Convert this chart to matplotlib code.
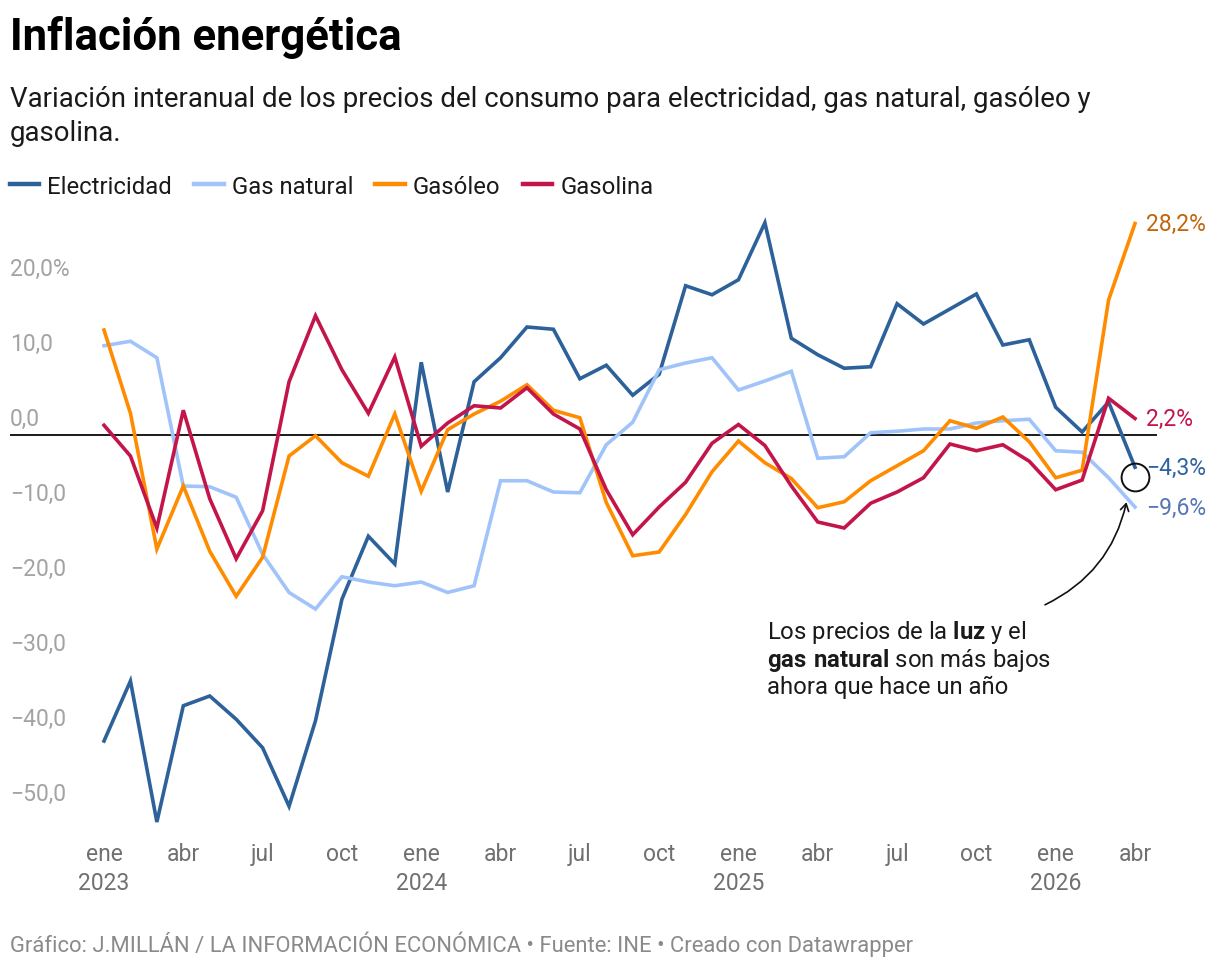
import matplotlib
matplotlib.use("Agg")
import matplotlib.pyplot as plt
from matplotlib.lines import Line2D
from matplotlib import transforms

plt.rcParams['font.family'] = ['Roboto', 'DejaVu Sans']
plt.rcParams['mathtext.fontset'] = 'custom'
plt.rcParams['mathtext.rm'] = 'Roboto'
plt.rcParams['mathtext.bf'] = 'Roboto:bold'

# ---------------- data ----------------
months = list(range(40))  # ene 2023 .. abr 2026
electricidad = [-40.8, -32.8, -51.6, -36.1, -34.8, -37.9, -41.7, -49.5, -38.1, -21.9,
                -13.5, -17.2, 9.7, -7.6, 7.1, 10.3, 14.4, 14.1, 7.5, 9.3,
                5.3, 8.1, 19.9, 18.7, 20.7, 28.3, 12.9, 10.7, 8.9, 9.1,
                17.5, 14.8, 16.8, 18.8, 12.0, 12.7, 3.7, 0.4, 4.4, -4.3]
gas_natural = [11.9, 12.5, 10.3, -6.8, -6.9, -8.3, -15.9, -21.0, -23.2, -18.9,
               -19.6, -20.1, -19.6, -21.0, -20.1, -6.1, -6.1, -7.6, -7.7, -1.3,
               1.7, 8.7, 9.6, 10.3, 6.0, 7.2, 8.5, -3.1, -2.9, 0.3,
               0.5, 0.8, 0.8, 1.6, 1.9, 2.1, -2.1, -2.3, -5.7, -9.6]
gasoleo = [14.0, 2.9, -15.2, -6.8, -15.5, -21.5, -16.3, -2.8, -0.1, -3.7,
           -5.5, 2.8, -7.5, 0.7, 2.8, 4.5, 6.7, 3.3, 2.3, -9.0,
           -16.1, -15.6, -10.6, -4.9, -0.8, -3.7, -5.8, -9.7, -8.9, -6.1,
           -4.1, -2.1, 1.9, 0.9, 2.4, -0.9, -5.7, -4.7, 18.0, 28.2]
gasolina = [1.3, -2.8, -12.4, 3.3, -8.5, -16.5, -10.1, 7.1, 15.9, 8.7,
            2.9, 10.4, -1.5, 1.6, 3.9, 3.6, 6.3, 2.8, 0.8, -7.3,
            -13.3, -9.6, -6.3, -1.1, 1.4, -1.4, -6.8, -11.6, -12.4, -9.1,
            -7.6, -5.7, -1.2, -2.1, -1.3, -3.5, -7.3, -6.0, 4.9, 2.2]

series_names = ['Electricidad', 'Gas natural', 'Gasóleo', 'Gasolina']
series_values = [electricidad, gas_natural, gasoleo, gasolina]
series_colors = ['#2c6199', '#a0c4fa', '#ff8c00', '#c3154a']
end_label_colors = ['#2f62a0', '#5578b5', '#c0650a', '#c3154a']
end_labels = ['−4,3%', '−9,6%', '28,2%', '2,2%']

xtick_pos = [0, 3, 6, 9, 12, 15, 18, 21, 24, 27, 30, 33, 36, 39]
xtick_labels = ['ene\n2023', 'abr', 'jul', 'oct', 'ene\n2024', 'abr', 'jul', 'oct',
                'ene\n2025', 'abr', 'jul', 'oct', 'ene\n2026', 'abr']
ytick_vals = [20, 10, 0, -10, -20, -30, -40, -50]
ytick_labels = ['20,0%', '10,0', '0,0', '−10,0', '−20,0', '−30,0', '−40,0', '−50,0']

# ---------------- figure ----------------
W, H = 1220, 970
fig = plt.figure(figsize=(W / 100, H / 100), dpi=100)
fig.patch.set_facecolor('white')

ax_left, ax_right, ax_top, ax_bot = 10, 1157, 211, 841
ax = fig.add_axes([ax_left / W, 1 - ax_bot / H, (ax_right - ax_left) / W, (ax_bot - ax_top) / H])
px_per_month = (1135 - 104) / 39
ax.set_xlim(-(104 - ax_left) / px_per_month, 39 + (ax_right - 1135) / px_per_month)
ax.set_ylim(-54, 30)
for s in ax.spines.values():
    s.set_visible(False)
ax.set_yticks([])
ax.axhline(0, color='#1a1a1a', lw=1.4, zorder=1)

for name, vals, col in zip(series_names, series_values, series_colors):
    ax.plot(months, vals, color=col, lw=2.6, solid_joinstyle='miter', zorder=3)

# y labels above gridlines
ytrans = transforms.blended_transform_factory(ax.transAxes, ax.transData)
for v, lab in zip(ytick_vals, ytick_labels):
    ax.annotate(lab, xy=(0, v), xycoords=ytrans, xytext=(0, 7), textcoords='offset points',
                ha='left', va='baseline', fontsize=16.5, color='#a3a3a3')

# x labels
ax.set_xticks(xtick_pos)
ax.set_xticklabels(xtick_labels, fontsize=16.5, color='#707070')
ax.tick_params(axis='x', length=0, pad=1.5)
for t in ax.get_xticklabels():
    t.set_linespacing(1.33)

# end labels
for vals, lab, col in zip(series_values, end_labels, end_label_colors):
    ax.annotate(lab, xy=(months[-1], vals[-1]), xytext=(8, 0), textcoords='offset points',
                ha='left', va='center', fontsize=16.5, color=col)

# annotation
ax.plot([39], [-5.6], marker='o', ms=20, mfc='none', mec='#111111', mew=1.4, zorder=5)
ax.annotate('', xy=(38.7, -8.6), xytext=(35.5, -22.8),
            arrowprops=dict(arrowstyle='->,head_length=0.5,head_width=0.3',
                            connectionstyle='arc3,rad=0.25', lw=1.2, color='#111111'))
ann_lines = [r'Los precios de la $\mathbf{luz}$ y el',
             r'$\mathbf{gas\ natural}$ son más bajos',
             'ahora que hace un año']
ann_x = (767 - 104) / px_per_month
for i, line in enumerate(ann_lines):
    ax.text(ann_x, (436 - 639 - 27.5 * i) / 7.5, line, fontsize=17.2, color='#1a1a1a',
            ha='left', va='baseline')

# title, subtitle
fig.text(10 / W, 1 - 50 / H, 'Inflación energética', fontsize=31.5, fontweight='bold',
         color='#000000', ha='left', va='baseline')
fig.text(10 / W, 1 - 107 / H, 'Variación interanual de los precios del consumo para electricidad, gas natural, gasóleo y',
         fontsize=19.9, color='#1a1a1a', ha='left', va='baseline')
fig.text(10 / W, 1 - 141 / H, 'gasolina.', fontsize=19.9, color='#1a1a1a', ha='left', va='baseline')

# legend
handles = [Line2D([0], [0], color=c, lw=3.2) for c in series_colors]
fig.legend(handles, series_names, loc='upper left', bbox_to_anchor=(0.0 / W, 1 - 166 / H),
           ncol=4, frameon=False, fontsize=17.2, handlelength=1.25, handletextpad=0.33,
           columnspacing=0.92, borderaxespad=0.0, labelcolor='#1a1a1a')

# footer
fig.text(10 / W, 1 - 952 / H,
         'Gráfico: J.MILLÁN / LA INFORMACIÓN ECONÓMICA • Fuente: INE • Creado con Datawrapper',
         fontsize=15.8, color='#8a8a8a', ha='left', va='baseline')

fig.savefig('out.png', dpi=100, facecolor='white')
